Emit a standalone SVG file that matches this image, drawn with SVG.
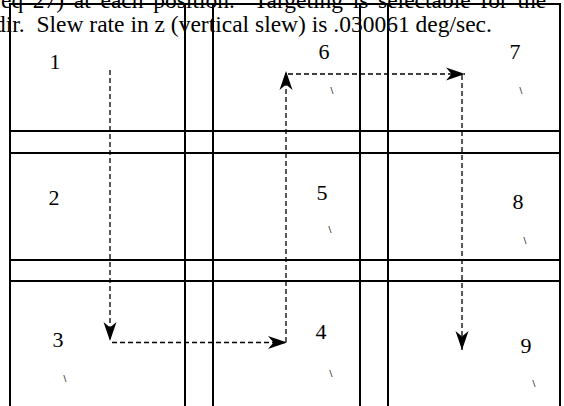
<svg xmlns="http://www.w3.org/2000/svg" width="564" height="406" viewBox="0 0 564 406">
<style>
.grid line{stroke:#000;stroke-width:2}
.hdr{font-family:"Liberation Serif","Times New Roman",serif;font-size:23.5px;fill:#000}
.num{font-family:"Liberation Serif","Times New Roman",serif;font-size:22px;fill:#000;text-anchor:middle}
.tick{font-family:"Liberation Serif","Times New Roman",serif;font-size:10px;font-weight:bold;fill:#000;text-anchor:middle}
.conn line{stroke:#000;stroke-width:1.3;stroke-dasharray:5 3;fill:none}
</style>
<defs>
<marker id="ah" markerUnits="userSpaceOnUse" markerWidth="22" markerHeight="14" refX="19" refY="7" orient="auto" viewBox="0 0 22 14">
<path d="M19,7 L0,0.5 L5.5,7 L0,13.5 Z" fill="#000"/>
</marker>
</defs>
<rect width="564" height="406" fill="#fff"/>
<g id="header">
<text class="hdr" x="1" y="8" word-spacing="3.8" xml:space="preserve">eq 27) at each position.  Targeting is selectable for the</text>
<text class="hdr" x="-6" y="32" xml:space="preserve">dir.  Slew rate in z (vertical slew) is .030061 deg/sec.</text>
</g>
<g id="grid" class="grid">
<line x1="10" y1="4" x2="560" y2="4"/>
<line x1="10" y1="3" x2="10" y2="406"/>
<line x1="560" y1="3" x2="560" y2="406"/>
<line x1="185" y1="3" x2="185" y2="406"/>
<line x1="213" y1="3" x2="213" y2="406"/>
<line x1="360" y1="3" x2="360" y2="406"/>
<line x1="388" y1="3" x2="388" y2="406"/>
<line x1="10" y1="131" x2="560" y2="131"/>
<line x1="10" y1="153" x2="560" y2="153"/>
<line x1="10" y1="260" x2="560" y2="260"/>
<line x1="10" y1="281" x2="560" y2="281"/>
</g>
<g id="cell-1"><text class="num" x="55" y="69">1</text></g>
<g id="cell-2"><text class="num" x="54" y="205">2</text></g>
<g id="cell-3"><text class="num" x="58" y="347">3</text><text class="tick" x="65" y="382">\</text></g>
<g id="cell-4"><text class="num" x="321" y="339">4</text><text class="tick" x="331" y="377">\</text></g>
<g id="cell-5"><text class="num" x="322" y="200">5</text><text class="tick" x="330" y="233">\</text></g>
<g id="cell-6"><text class="num" x="324" y="59">6</text><text class="tick" x="332" y="94">\</text></g>
<g id="cell-7"><text class="num" x="515" y="59">7</text><text class="tick" x="521" y="94">\</text></g>
<g id="cell-8"><text class="num" x="518" y="209">8</text><text class="tick" x="525" y="244">\</text></g>
<g id="cell-9"><text class="num" x="526" y="353">9</text><text class="tick" x="534" y="387">\</text></g>
<g id="connectors" class="conn">
<line x1="110" y1="70" x2="110" y2="341" marker-end="url(#ah)"/>
<line x1="112" y1="342.5" x2="287" y2="342.5" marker-end="url(#ah)"/>
<line x1="286" y1="342" x2="286" y2="71" marker-end="url(#ah)"/>
<line x1="288" y1="74" x2="465" y2="74" marker-end="url(#ah)"/>
<line x1="462" y1="75" x2="462" y2="350" marker-end="url(#ah)"/>
</g>
</svg>
